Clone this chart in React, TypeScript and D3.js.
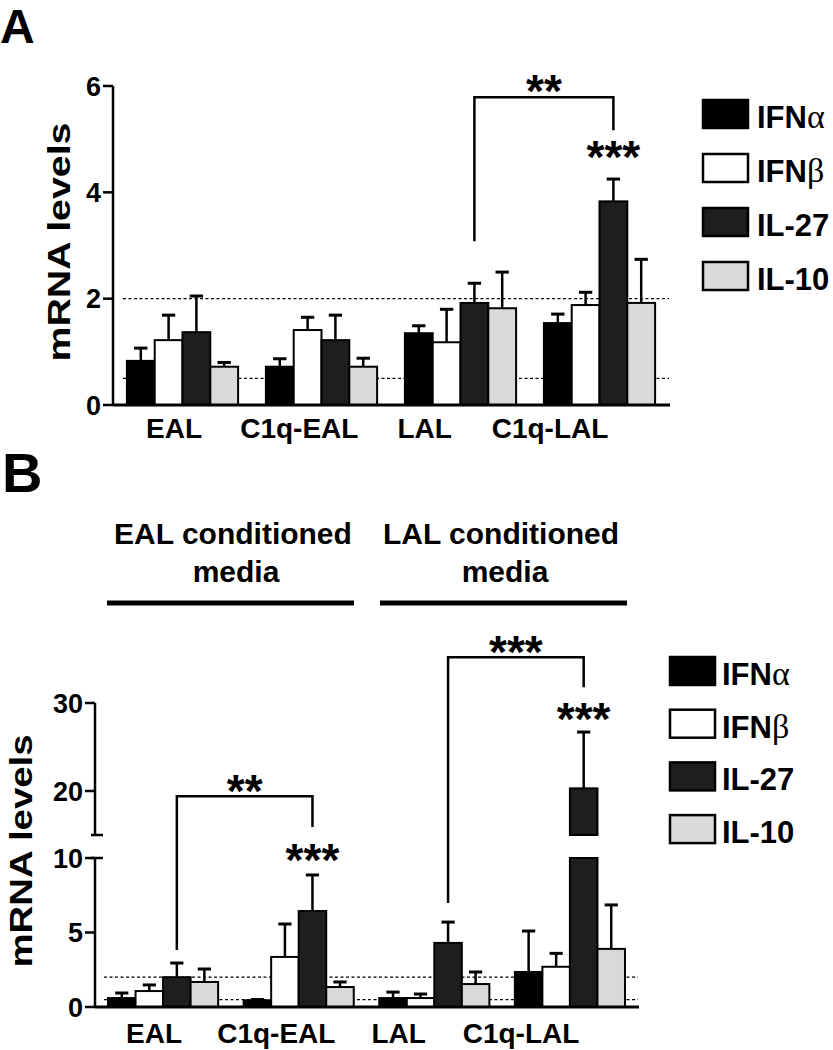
import React from "react";
import * as d3 from "d3";

const FONT = "'Liberation Sans', Arial, Helvetica, sans-serif";

const groups = ["EAL", "C1q-EAL", "LAL", "C1q-LAL"];
const series = ["IFNα", "IFNβ", "IL-27", "IL-10"];
const fills = ["#000000", "#ffffff", "#1e1e1e", "#d9d9d9"];

// panel A: means and upper error (mean + SEM), one array per series
const aMeanIFNa = [0.83, 0.72, 1.35, 1.54];
const aMeanIFNb = [1.22, 1.41, 1.18, 1.88];
const aMeanIL27 = [1.37, 1.22, 1.92, 3.83];
const aMeanIL10 = [0.72, 0.72, 1.82, 1.92];
const aTopIFNa = [1.07, 0.87, 1.49, 1.71];
const aTopIFNb = [1.69, 1.65, 1.8, 2.12];
const aTopIL27 = [2.05, 1.69, 2.29, 4.25];
const aTopIL10 = [0.8, 0.88, 2.5, 2.74];

// panel B
const bMeanIFNa = [0.6, 0.45, 0.6, 2.35];
const bMeanIFNb = [1.07, 3.36, 0.6, 2.7];
const bMeanIL27 = [2.0, 6.44, 4.3, 20.3];
const bMeanIL10 = [1.68, 1.34, 1.54, 3.9];
const bTopIFNa = [0.94, 0.5, 1.0, 5.1];
const bTopIFNb = [1.48, 5.57, 0.87, 3.6];
const bTopIL27 = [2.95, 8.86, 5.7, 26.7];
const bTopIL10 = [2.55, 1.68, 2.35, 6.85];

const aTicks = [0, 2, 4, 6];
const bTicksLow = [0, 5, 10];
const bTicksHigh = [20, 30];
const refLines = [0.5, 2];

// significance brackets: from/to group, left foot, top, right foot (data units), label
const aBrackets = [{ from: "LAL", to: "C1q-LAL", left: 3.08, top: 5.79, right: 5.17, label: "**" }];
const aStars = [{ group: "C1q-LAL", value: 4.98, label: "***" }];
const bBrackets = [
  { from: "EAL", to: "C1q-EAL", left: 3.83, top: 19.4, right: 15.9, label: "**" },
  { from: "LAL", to: "C1q-LAL", left: 6.98, top: 35.2, right: 31.8, label: "***" },
];
const bStars = [
  { group: "C1q-EAL", value: 13.3, label: "***" },
  { group: "C1q-LAL", value: 30.1, label: "***" },
];

type Bracket = { from: string; to: string; left: number; top: number; right: number; label: string };
type Star = { group: string; value: number; label: string };

const STAR_FS = 46;

function LegendLabel({ name, x, y }: { name: string; x: number; y: number }) {
  const greek = name.startsWith("IFN");
  return (
    <text x={x} y={y} fontFamily={FONT} fontWeight="bold" fontSize={31}>
      {greek ? "IFN" : name}
      {greek && (
        <tspan fontFamily="'Liberation Serif', 'Times New Roman', serif" fontWeight="normal" fontSize={34}>
          {name.slice(3)}
        </tspan>
      )}
    </text>
  );
}

function Panel(props: {
  means: number[][];
  tops: number[][];
  x0: d3.ScaleBand<string>;
  y: d3.ScaleLinear<number, number>;
  labelX: d3.ScalePoint<string>;
  labelY: number;
  brackets: Bracket[];
  stars: Star[];
  breakLow?: number;
  breakHigh?: number;
  refStart: number;
}) {
  const { means, tops, x0, y, labelX, labelY, brackets, stars, breakLow, breakHigh, refStart } = props;
  const x1 = d3.scaleBand<string>().domain(series).range([0, x0.bandwidth()]);
  const bw = x1.bandwidth();
  const base = y(0);
  const [, xEnd] = x0.range();
  const cx = (g: string) => (x0(g) ?? 0) + (x1("IL-27") ?? 0) + bw / 2;

  return (
    <g>
      {refLines.map((v) => (
        <line key={v} x1={refStart} x2={xEnd} y1={y(v)} y2={y(v)} stroke="#000" strokeWidth={1.2} strokeDasharray="3,2.5" />
      ))}
      {groups.map((g, gi) => (
        <g key={g} transform={`translate(${x0(g)},0)`}>
          {series.map((s, si) => {
            const v = means[si][gi];
            const t = tops[si][gi];
            const bx = x1(s) ?? 0;
            const mid = bx + bw / 2;
            const broken = breakLow !== undefined && breakHigh !== undefined && v > breakHigh;
            return (
              <g key={s}>
                <line x1={mid} x2={mid} y1={y(v)} y2={y(t)} stroke="#000" strokeWidth={2.5} />
                <line x1={mid - bw * 0.24} x2={mid + bw * 0.24} y1={y(t)} y2={y(t)} stroke="#000" strokeWidth={3} />
                {broken ? (
                  <>
                    <rect x={bx} y={y(breakLow!)} width={bw} height={base - y(breakLow!)} fill={fills[si]} stroke="#000" strokeWidth={2} />
                    <rect x={bx} y={y(v)} width={bw} height={y(breakHigh!) - y(v)} fill={fills[si]} stroke="#000" strokeWidth={2} />
                  </>
                ) : (
                  <rect x={bx} y={y(v)} width={bw} height={base - y(v)} fill={fills[si]} stroke="#000" strokeWidth={2} />
                )}
              </g>
            );
          })}
        </g>
      ))}
      {groups.map((g) => (
        <text key={g} x={labelX(g)} y={labelY} textAnchor="middle" fontFamily={FONT} fontWeight="bold" fontSize={28}>
          {g}
        </text>
      ))}
      {brackets.map((b) => {
        const xl = cx(b.from);
        const xr = cx(b.to);
        return (
          <g key={b.from}>
            <path
              d={`M${xl},${y(b.left)}V${y(b.top)}H${xr}V${y(b.right)}`}
              fill="none"
              stroke="#000"
              strokeWidth={2.5}
            />
            <text
              x={(xl + xr) / 2}
              y={y(b.top) - 9 + STAR_FS * 0.42}
              textAnchor="middle"
              fontFamily={FONT}
              fontWeight="bold"
              fontSize={STAR_FS}
            >
              {b.label}
            </text>
          </g>
        );
      })}
      {stars.map((s) => (
        <text
          key={s.group}
          x={cx(s.group)}
          y={y(s.value) + STAR_FS * 0.72}
          textAnchor="middle"
          fontFamily={FONT}
          fontWeight="bold"
          fontSize={STAR_FS}
        >
          {s.label}
        </text>
      ))}
    </g>
  );
}

export default function App() {
  // ---------- panel A ----------
  const yA = d3.scaleLinear().domain([0, 6]).range([405, 86]);
  const x0A = d3.scaleBand<string>().domain(groups).range([113, 669]).paddingInner(0.2).paddingOuter(0.1);
  const lblA = d3.scalePoint<string>().domain(groups).range([174, 550]);
  const axA = 113;

  // ---------- panel B (broken axis 10..15) ----------
  const yB = d3.scaleLinear().domain([0, 10, 15, 30]).range([1007, 858, 835, 703]);
  const x0B = d3.scaleBand<string>().domain(groups).range([95, 638]).paddingInner(0.188).paddingOuter(0.096);
  const lblB = d3.scalePoint<string>().domain(groups).range([154, 521]);
  const axB = 95;

  const meansA = [aMeanIFNa, aMeanIFNb, aMeanIL27, aMeanIL10];
  const topsA = [aTopIFNa, aTopIFNb, aTopIL27, aTopIL10];
  const meansB = [bMeanIFNa, bMeanIFNb, bMeanIL27, bMeanIL10];
  const topsB = [bTopIFNa, bTopIFNb, bTopIL27, bTopIL10];

  return (
    <svg
      width={833}
      height={1050}
      style={{ position: "absolute", left: 0, top: 0, background: "#fff" }}
      fontFamily={FONT}
    >
      {/* panel letters */}
      <text x={0} y={43} fontWeight="bold" fontSize={48}>A</text>
      <text x={2} y={492} fontWeight="bold" fontSize={56}>B</text>

      {/* ---- A ---- */}
      <Panel
        means={meansA}
        tops={topsA}
        x0={x0A}
        y={yA}
        labelX={lblA}
        labelY={438}
        brackets={aBrackets}
        stars={aStars}
        refStart={123}
      />
      <line x1={axA} x2={axA} y1={yA(0)} y2={yA(6)} stroke="#000" strokeWidth={2.5} />
      <line x1={axA} x2={670} y1={yA(0)} y2={yA(0)} stroke="#000" strokeWidth={3} />
      {aTicks.map((t) => (
        <g key={t}>
          <line x1={axA - 10} x2={axA} y1={yA(t)} y2={yA(t)} stroke="#000" strokeWidth={2.5} />
          <text x={axA - 12} y={yA(t) + 9.5} textAnchor="end" fontWeight="bold" fontSize={27}>
            {t}
          </text>
        </g>
      ))}
      <text
        transform={`translate(70,242) rotate(-90)`}
        textAnchor="middle"
        fontWeight="bold"
        fontSize={31}
        textLength={239}
        lengthAdjust="spacingAndGlyphs"
      >
        mRNA levels
      </text>
      {series.map((s, i) => (
        <g key={s}>
          <rect x={703} y={100 + i * 54} width={45} height={28} fill={fills[i]} stroke="#000" strokeWidth={2.5} />
          <LegendLabel name={s} x={757} y={128 + i * 54} />
        </g>
      ))}

      {/* ---- B header ---- */}
      <text x={233} y={544} textAnchor="middle" fontWeight="bold" fontSize={30}>EAL conditioned</text>
      <text x={236} y={582} textAnchor="middle" fontWeight="bold" fontSize={30}>media</text>
      <text x={501} y={544} textAnchor="middle" fontWeight="bold" fontSize={30}>LAL conditioned</text>
      <text x={505} y={582} textAnchor="middle" fontWeight="bold" fontSize={30}>media</text>
      <line x1={107} x2={354} y1={603} y2={603} stroke="#000" strokeWidth={5} />
      <line x1={380} x2={627} y1={603} y2={603} stroke="#000" strokeWidth={5} />

      {/* ---- B ---- */}
      <Panel
        means={meansB}
        tops={topsB}
        x0={x0B}
        y={yB}
        labelX={lblB}
        labelY={1043}
        brackets={bBrackets}
        stars={bStars}
        breakLow={10}
        breakHigh={15}
        refStart={104}
      />
      <line x1={axB} x2={axB} y1={yB(0)} y2={yB(10)} stroke="#000" strokeWidth={2.5} />
      <line x1={axB} x2={axB} y1={yB(15)} y2={yB(30)} stroke="#000" strokeWidth={2.5} />
      <line x1={axB - 4} x2={axB + 8} y1={yB(10)} y2={yB(10)} stroke="#000" strokeWidth={2.5} />
      <line x1={axB - 4} x2={axB + 8} y1={yB(15)} y2={yB(15)} stroke="#000" strokeWidth={2.5} />
      <line x1={axB} x2={639} y1={yB(0)} y2={yB(0)} stroke="#000" strokeWidth={3} />
      {[...bTicksLow, ...bTicksHigh].map((t) => (
        <g key={t}>
          <line x1={axB - 10} x2={axB} y1={yB(t)} y2={yB(t)} stroke="#000" strokeWidth={2.5} />
          <text x={axB - 12} y={yB(t) + 9.5} textAnchor="end" fontWeight="bold" fontSize={27}>
            {t}
          </text>
        </g>
      ))}
      <text
        transform={`translate(32,851) rotate(-90)`}
        textAnchor="middle"
        fontWeight="bold"
        fontSize={31}
        textLength={233}
        lengthAdjust="spacingAndGlyphs"
      >
        mRNA levels
      </text>
      {series.map((s, i) => (
        <g key={s}>
          <rect x={670} y={657 + i * 52.7} width={45} height={28} fill={fills[i]} stroke="#000" strokeWidth={2.5} />
          <LegendLabel name={s} x={722} y={685 + i * 52.7} />
        </g>
      ))}
    </svg>
  );
}
